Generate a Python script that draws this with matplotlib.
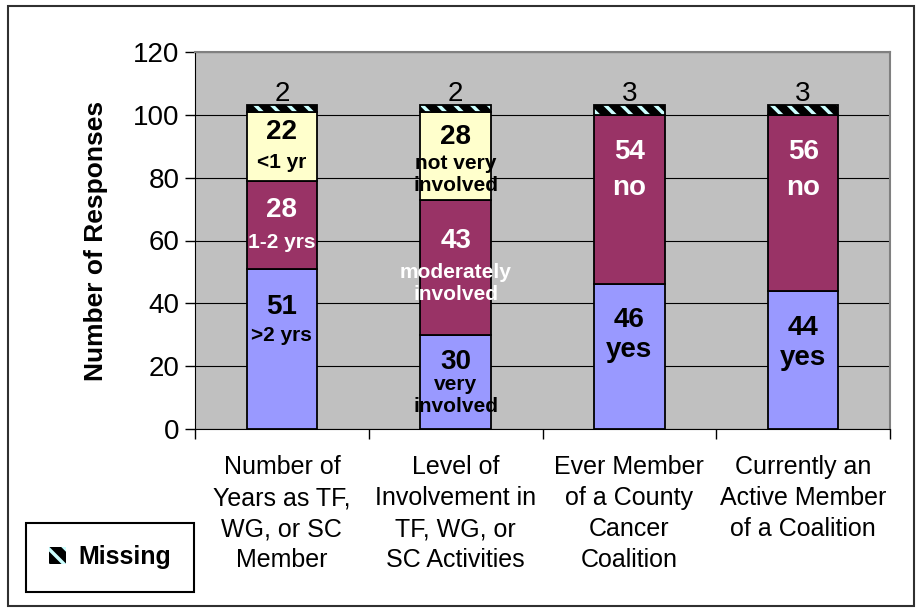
import matplotlib
matplotlib.use('Agg')
import matplotlib.pyplot as plt
import matplotlib.patches as mpatches
import numpy as np

plt.rcParams['font.family'] = ['Liberation Sans', 'DejaVu Sans']

categories = ['Number of\nYears as TF,\nWG, or SC\nMember',
              'Level of\nInvolvement in\nTF, WG, or\nSC Activities',
              'Ever Member\nof a County\nCancer\nCoalition',
              'Currently an\nActive Member\nof a Coalition']
bottom_vals = [51, 30, 46, 44]
middle_vals = [28, 43, 54, 56]
top_vals = [22, 28, 0, 0]
missing_vals = [2, 2, 3, 3]

bottom_labels = ['>2 yrs', 'very\ninvolved', 'yes', 'yes']
middle_labels = ['1-2 yrs', 'moderately\ninvolved', 'no', 'no']
top_labels = ['<1 yr', 'not very\ninvolved', '', '']

fig = plt.figure(figsize=(9.22, 6.12), dpi=100)
ax = fig.add_axes([195/922, 1-429/612, (890-195)/922, (429-52)/612])
ax.set_facecolor('#C0C0C0')

x = np.arange(len(categories))
w = 0.405
b1 = np.array(bottom_vals)
b2 = b1 + np.array(middle_vals)
b3 = b2 + np.array(top_vals)

ax.bar(x, bottom_vals, w, color='#9999FF', edgecolor='black', linewidth=1.3, zorder=3)
ax.bar(x, middle_vals, w, bottom=b1, color='#993366', edgecolor='black', linewidth=1.3, zorder=3)
ax.bar(x, top_vals, w, bottom=b2, color='#FFFFCC', edgecolor='black', linewidth=1.3, zorder=3)
plt.rcParams['hatch.linewidth'] = 2.5
ax.bar(x, missing_vals, w, bottom=b3, color='black', edgecolor='#CCFFFF', hatch='\\\\', linewidth=0, zorder=3)
ax.bar(x, missing_vals, w, bottom=b3, fill=False, edgecolor='black', linewidth=1.3, zorder=4)

# label positions (data units)
num_y = [[38.8, 69.7, 94.5], [21.3, 60, 93], [34.7, 88.2], [32.1, 88.2]]
sub_y = [[29.9, 59.5, 84.7], [10.7, 46.3, 81], [25.1, 76.7], [22.6, 76.7]]

for i in range(len(categories)):
    vals = [bottom_vals[i], middle_vals[i], top_vals[i]]
    subs = [bottom_labels[i], middle_labels[i], top_labels[i]]
    cols = ['black', 'white', 'black']
    sub_size = 15 if i < 2 else 20
    for k in range(len(num_y[i])):
        ax.text(i, num_y[i][k], str(vals[k]), ha='center', va='center', fontsize=20,
                fontweight='bold', color=cols[k], zorder=5)
        ax.text(i, sub_y[i][k], subs[k], ha='center', va='center', fontsize=sub_size,
                fontweight='bold', color=cols[k], linespacing=1.22, zorder=5)
    ax.text(i, b3[i] + missing_vals[i] + 1.4, str(missing_vals[i]), ha='center', va='baseline',
            fontsize=20, zorder=5)

ax.set_xlim(-0.5, 3.5)
ax.set_ylim(0, 120)
ax.set_yticks(np.arange(0, 121, 20))
ax.yaxis.grid(True, color='black', linewidth=0.8, zorder=0)
ax.set_axisbelow(True)
ax.tick_params(axis='y', labelsize=20, length=7, direction='out', width=1, pad=4)
ax.set_xticks(np.arange(-0.5, 4, 1))
ax.set_xticklabels([])
ax.set_xticks(x, minor=True)
ax.set_xticklabels(categories, minor=True, fontsize=18, linespacing=1.36, va='top')
ax.tick_params(axis='x', which='major', length=7, width=1)
ax.tick_params(axis='x', which='minor', length=0, pad=19)
for s in ['top', 'right']:
    ax.spines[s].set_color('#808080')
    ax.spines[s].set_linewidth(1.5)
ax.set_ylabel('Number of Responses', fontsize=19, fontweight='bold', labelpad=18)

# legend
handle = mpatches.Patch(facecolor='black', edgecolor='#CCFFFF', hatch='\\\\', linewidth=0)
leg = fig.legend([handle], ['Missing'], loc='center', bbox_to_anchor=(110/922, 1-557/612),
                 prop={'weight': 'bold', 'size': 18}, frameon=True, fancybox=False,
                 handlelength=0.7, handleheight=0.7, handletextpad=0.5,
                 borderpad=0.9, borderaxespad=0)
leg.get_frame().set_edgecolor('black')
leg.get_frame().set_linewidth(1.5)
leg.get_frame().set_alpha(1)

# figure border
fig.patches.append(mpatches.Rectangle((8/922, 6/612), (914-8)/922, (606-6)/612, transform=fig.transFigure,
                                      fill=False, edgecolor='#303030', linewidth=1.5))

fig.savefig('out.png', dpi=100)
